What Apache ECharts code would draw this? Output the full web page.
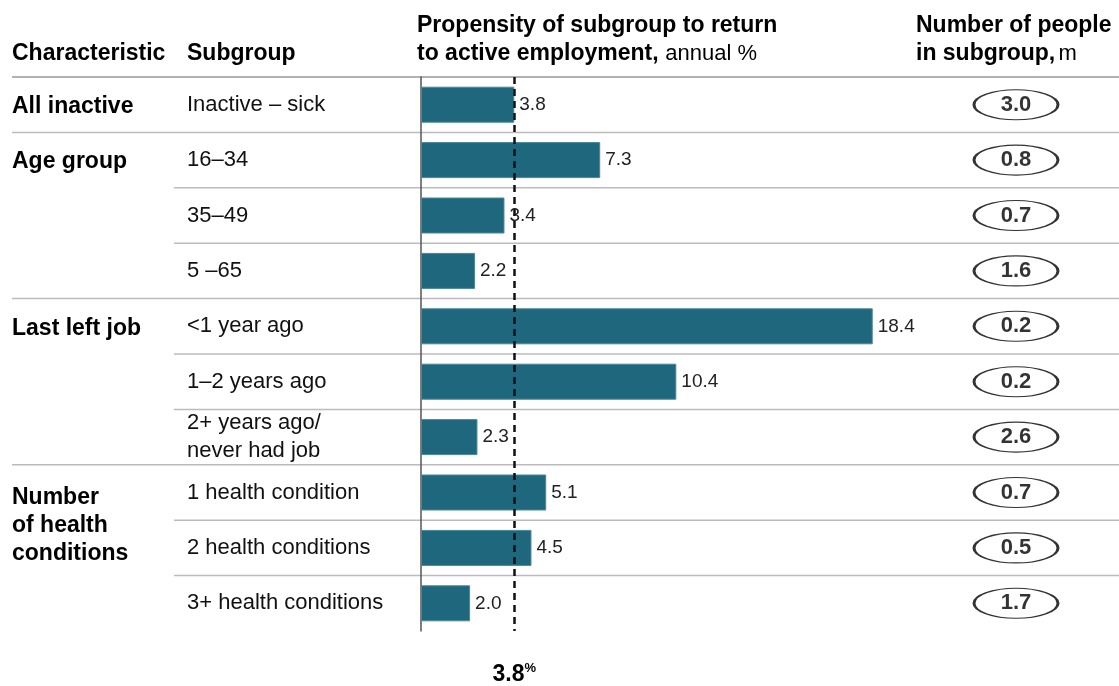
<!DOCTYPE html>
<html>
<head>
<meta charset="utf-8">
<script src="https://cdn.jsdelivr.net/npm/echarts@6/dist/echarts.min.js"></script>
<style>
  html, body { margin: 0; padding: 0; background: #fff; }
  #main { width: 1119px; height: 686px; }
</style>
</head>
<body>
<div id="main"></div>
<script>
// data
const subgroups = ['Inactive \u2013 sick', '16\u201334', '35\u201349', '5 \u201365', '<1 year ago', '1\u20132 years ago',
  '2+ years ago/\nnever had job', '1 health condition', '2 health conditions', '3+ health conditions'];
const propensity = [3.8, 7.3, 3.4, 2.2, 18.4, 10.4, 2.3, 5.1, 4.5, 2.0];
const people = [3.0, 0.8, 0.7, 1.6, 0.2, 0.2, 2.6, 0.7, 0.5, 1.7];
const average = 3.8;
// characteristic groups: label, first row, last row
const groups = [
  { name: 'All inactive', from: 0, to: 0 },
  { name: 'Age group', from: 1, to: 3 },
  { name: 'Last left job', from: 4, to: 6 },
  { name: 'Number\nof health\nconditions', from: 7, to: 9 }
];

const font = '"Liberation Sans", Arial, sans-serif';
const gridTop = 77, gridH = 554;
const rowH = gridH / subgroups.length;

const myChart = echarts.init(document.getElementById('main'));

const graphics = [];
// separators
const groupEnds = groups.map(g => g.to);
graphics.push({ type: 'line', shape: { x1: 12, y1: gridTop, x2: 1119, y2: gridTop },
  style: { stroke: '#999', lineWidth: 1.5 } });
for (let i = 0; i < subgroups.length - 1; i++) {
  const y = gridTop + rowH * (i + 1);
  const full = groupEnds.indexOf(i) >= 0;
  graphics.push({ type: 'line', shape: { x1: full ? 12 : 174, y1: y, x2: 1119, y2: y },
    style: { stroke: '#bbb', lineWidth: 1.5 } });
}
// characteristic labels
groups.forEach(g => {
  const multi = g.name.indexOf('\n') >= 0;
  graphics.push({ type: 'text', left: 12,
    top: multi ? gridTop + rowH * g.from + 19 : gridTop + rowH * g.from + rowH / 2 - 12,
    style: { text: g.name, font: 'bold 23px ' + font, fill: '#000', lineHeight: 28 } });
});
// headers
graphics.push({ type: 'text', left: 12, top: 40,
  style: { text: 'Characteristic', font: 'bold 23px ' + font, fill: '#000', lineHeight: 28 } });
graphics.push({ type: 'text', left: 187, top: 40,
  style: { text: 'Subgroup', font: 'bold 23px ' + font, fill: '#000', lineHeight: 28 } });
graphics.push({ type: 'text', left: 417, top: 14,
  style: { text: '{b|Propensity of subgroup to return}\n{b|to active employment,}  {n|annual %}',
    rich: { b: { font: 'bold 23px ' + font, fill: '#000', lineHeight: 28 },
            n: { font: '22px ' + font, fill: '#000', lineHeight: 28 } } } });
graphics.push({ type: 'text', left: 916, top: 14,
  style: { text: '{b|Number of people}\n{b|in subgroup,} {n|m}',
    rich: { b: { font: 'bold 23px ' + font, fill: '#000', lineHeight: 28 },
            n: { font: '22px ' + font, fill: '#000', lineHeight: 28 } } } });

const option = {
  animation: false,
  backgroundColor: '#fff',
  textStyle: { fontFamily: font },
  grid: [
    { left: 421, top: gridTop, width: 491, height: gridH },
    { left: 974, top: gridTop, width: 84, height: gridH }
  ],
  xAxis: [
    { gridIndex: 0, type: 'value', min: 0, max: 20, show: false },
    { gridIndex: 1, type: 'value', min: 0, max: 1, show: false }
  ],
  yAxis: [
    { gridIndex: 0, type: 'category', inverse: true, data: subgroups,
      axisLine: { show: true, lineStyle: { color: '#555', width: 1.5 } },
      axisTick: { show: false },
      axisLabel: { align: 'left', margin: 234, fontSize: 22, color: '#111', lineHeight: 28,
        padding: [4, 0, 0, 0] } },
    { gridIndex: 1, type: 'category', inverse: true, data: subgroups, show: false }
  ],
  series: [
    {
      type: 'bar', xAxisIndex: 0, yAxisIndex: 0,
      data: propensity, barWidth: 36,
      itemStyle: { color: '#1f677d', borderColor: '#4b8799', borderWidth: 1 },
      label: { show: true, position: 'right', distance: 5, fontSize: 19, color: '#222',
        padding: [3, 0, 0, 0], formatter: p => p.value.toFixed(1) },
      markLine: {
        silent: true, symbol: 'none',
        lineStyle: { color: '#111', type: [7, 5], width: 2.5 },
        label: { position: 'end', distance: 31,
          formatter: '{v|' + average.toFixed(1) + '}{s|%}',
          rich: { v: { fontWeight: 'bold', fontSize: 23, color: '#000' },
                  s: { fontWeight: 'bold', fontSize: 13, color: '#000', padding: [0, 0, 12, 0] } } },
        data: [{ xAxis: average }]
      }
    },
    {
      type: 'scatter', xAxisIndex: 1, yAxisIndex: 1,
      data: people.map((p, i) => [0.5, subgroups[i], p]),
      symbol: 'circle', symbolSize: [84, 30],
      itemStyle: { color: '#fff', borderColor: '#000', borderWidth: 1.8 },
      label: { show: true, position: 'inside', fontWeight: 'bold', fontSize: 22, color: '#000',
        padding: [3, 0, 0, 0], formatter: p => p.value[2].toFixed(1) }
    }
  ],
  graphic: graphics
};

myChart.setOption(option);
</script>
</body>
</html>
